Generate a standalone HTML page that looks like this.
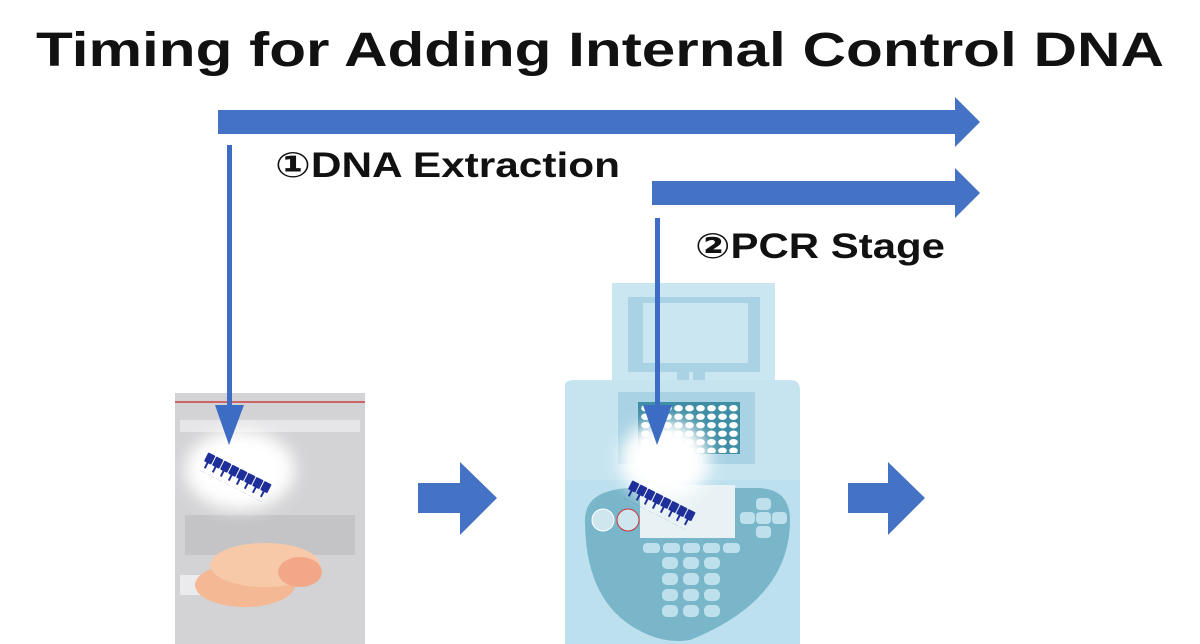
<!DOCTYPE html>
<html><head><meta charset="utf-8"><style>
html,body{margin:0;padding:0;background:#fff;width:1200px;height:644px;overflow:hidden}
svg{display:block}
text{font-family:"Liberation Sans","DejaVu Sans",sans-serif;font-weight:bold}
</style></head><body>
<svg width="1200" height="644" viewBox="0 0 1200 644" xmlns="http://www.w3.org/2000/svg">
<defs>
<filter id="glow" x="-50%" y="-50%" width="200%" height="200%"><feGaussianBlur stdDeviation="8"/></filter>
<pattern id="dots" x="640" y="404" width="11" height="8.5" patternUnits="userSpaceOnUse"><ellipse cx="5.5" cy="4.2" rx="4.3" ry="3.2" fill="#fff"/></pattern>
<pattern id="tube" x="0" y="0" width="9" height="20" patternUnits="userSpaceOnUse"><rect x="0.5" y="0" width="8" height="10" rx="1" fill="#1f2f9a"/><rect x="3.5" y="10" width="2" height="6" fill="#1f2f9a"/></pattern>
</defs>
<text x="600" y="66" font-size="48" text-anchor="middle" fill="#111" textLength="1128" lengthAdjust="spacingAndGlyphs">Timing for Adding Internal Control DNA</text>
<polygon points="218,110 955,110 955,97 980,122 955,147 955,134 218,134" fill="#4472c4"/>
<polygon points="652,181 955,181 955,168 980,193 955,218 955,205 652,205" fill="#4472c4"/>
<text x="275" y="177" font-size="35" fill="#111" textLength="345" lengthAdjust="spacingAndGlyphs">①DNA Extraction</text>
<text x="695" y="258" font-size="35" fill="#111" textLength="250" lengthAdjust="spacingAndGlyphs">②PCR Stage</text>

<!-- bag -->
<rect x="175" y="393" width="190" height="251" fill="#d3d3d5"/>
<rect x="180" y="420" width="180" height="12" fill="#e6e6e8"/>
<rect x="185" y="515" width="170" height="40" fill="#c4c4c7"/>
<rect x="180" y="575" width="40" height="20" fill="#ebebed"/>
<line x1="175" y1="402" x2="365" y2="402" stroke="#c66" stroke-width="2"/>
<ellipse cx="245" cy="585" rx="50" ry="22" fill="#f4b894"/>
<ellipse cx="265" cy="565" rx="55" ry="22" fill="#f8c9a8"/>
<ellipse cx="300" cy="572" rx="22" ry="15" fill="#f2a888"/>
<ellipse cx="240" cy="470" rx="55" ry="40" fill="#fff" filter="url(#glow)"/>

<!-- PCR machine -->
<rect x="612" y="283" width="163" height="105" fill="#c9e6f1"/>
<rect x="628" y="297" width="132" height="75" fill="#a9d3e4"/>
<rect x="643" y="303" width="105" height="60" fill="#c9e6f1"/>
<rect x="677" y="370" width="12" height="15" fill="#a9d3e4"/>
<rect x="693" y="370" width="12" height="15" fill="#a9d3e4"/>
<path d="M565,385 Q565,380 575,380 L790,380 Q800,380 800,390 L800,644 L565,644 Z" fill="#c6e4f0"/>
<rect x="565" y="480" width="235" height="164" fill="#bde0ee"/>
<rect x="618" y="392" width="137" height="72" fill="#a9d3e4"/>
<rect x="638" y="402" width="102" height="52" fill="#3f8ea5"/>
<rect x="639" y="403" width="100" height="50" fill="url(#dots)"/>
<path d="M585,520 Q585,490 630,488 L760,488 Q790,490 790,520 Q790,600 690,640 Q660,645 630,625 Q585,595 585,520 Z" fill="#79b6ca"/>
<rect x="640" y="485" width="95" height="53" fill="#e8f2f4"/>
<circle cx="603" cy="520" r="11" fill="#cfe6ee" stroke="#fff"/>
<circle cx="628" cy="520" r="11" fill="#cfe6ee" stroke="#c33"/>
<g fill="#bde0ec">
<rect x="643" y="543" width="17" height="10" rx="4"/><rect x="663" y="543" width="17" height="10" rx="4"/><rect x="683" y="543" width="17" height="10" rx="4"/><rect x="703" y="543" width="17" height="10" rx="4"/><rect x="723" y="543" width="17" height="10" rx="4"/>
<rect x="662" y="557" width="16" height="12" rx="5"/><rect x="683" y="557" width="16" height="12" rx="5"/><rect x="704" y="557" width="16" height="12" rx="5"/>
<rect x="662" y="573" width="16" height="12" rx="5"/><rect x="683" y="573" width="16" height="12" rx="5"/><rect x="704" y="573" width="16" height="12" rx="5"/>
<rect x="662" y="589" width="16" height="12" rx="5"/><rect x="683" y="589" width="16" height="12" rx="5"/><rect x="704" y="589" width="16" height="12" rx="5"/>
<rect x="662" y="605" width="16" height="12" rx="5"/><rect x="683" y="605" width="16" height="12" rx="5"/><rect x="704" y="605" width="16" height="12" rx="5"/>
<rect x="740" y="512" width="15" height="12" rx="4"/><rect x="756" y="512" width="15" height="12" rx="4"/><rect x="772" y="512" width="15" height="12" rx="4"/>
<rect x="756" y="498" width="15" height="12" rx="4"/><rect x="756" y="526" width="15" height="12" rx="4"/>
</g>
<ellipse cx="665" cy="460" rx="45" ry="40" fill="#fff" filter="url(#glow)"/>

<g transform="translate(208,452) rotate(27)"><rect x="0" y="0" width="72" height="20" fill="url(#tube)"/></g>
<g transform="translate(632,480) rotate(27)"><rect x="0" y="0" width="72" height="20" fill="url(#tube)"/></g>

<rect x="227" y="145" width="5" height="265" fill="#3d6cc4"/>
<polygon points="215,405 244,405 229,445" fill="#3d6cc4"/>
<rect x="655" y="218" width="5" height="192" fill="#3d6cc4"/>
<polygon points="643,405 672,405 657,445" fill="#3d6cc4"/>

<polygon points="418,483 460,483 460,462 497,498 460,535 460,513 418,513" fill="#4472c4"/>
<polygon points="848,483 888,483 888,462 925,498 888,535 888,513 848,513" fill="#4472c4"/>
</svg>
</body></html>
